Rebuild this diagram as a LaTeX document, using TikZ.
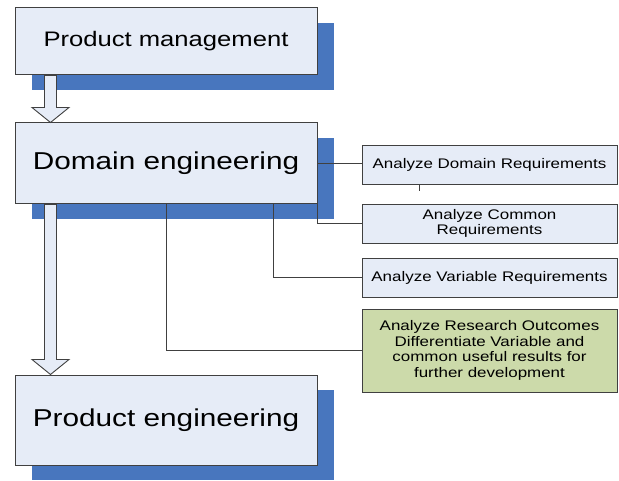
\documentclass[tikz,border=0pt]{standalone}
\usepackage{fontspec}
\newfontfamily\diagfont[FakeStretch=1.22]{Liberation Sans}
\usetikzlibrary{calc, shadows}
\definecolor{boxblue}{RGB}{230,236,247}
\definecolor{shadeblue}{RGB}{72,118,190}
\definecolor{boxgreen}{RGB}{204,218,170}
\definecolor{edgegray}{RGB}{64,64,64}

\begin{document}
\begin{tikzpicture}[
  x=1pt, y=1pt,
  font=\diagfont,
  every node/.style={align=center},
  stagebox/.style={draw=edgegray, fill=boxblue, line width=1pt,
                   minimum width=302pt, minimum height=#1, inner sep=0pt,
                   drop shadow={shadow xshift=17pt, shadow yshift=-15pt,
                                fill=shadeblue, opacity=1}},
  taskbox/.style={draw=edgegray, fill=#1, line width=0.9pt,
                  minimum width=255pt, inner sep=0pt,
                  font=\diagfont\fontsize{13.9}{15.8}\selectfont},
  link/.style={draw=edgegray, line width=0.9pt},
  blockarrow/.style={draw=edgegray, fill=boxblue, line width=0.9pt},
]
\useasboundingbox (0,0) rectangle (619,480);

%% Stages on the left
\node[stagebox=67pt, font=\diagfont\fontsize{21}{25}\selectfont]
  (pm) at (166,438.5) {Product management};
\node[stagebox=81pt, font=\diagfont\fontsize{24.4}{29}\selectfont]
  (de) at (166,316.5) {Domain engineering};
\node[stagebox=90pt, font=\diagfont\fontsize{24.4}{29}\selectfont]
  (pe) at (166,60) {Product engineering};

%% Domain engineering tasks
\node[taskbox=boxblue, minimum height=39pt] (adr) at (489.5,315.5)
  {Analyze Domain Requirements};
\node[taskbox=boxblue, minimum height=39pt] (acr) at (489.5,256.5)
  {Analyze Common\\Requirements};
\node[taskbox=boxblue, minimum height=39pt] (avr) at (489.5,202.5)
  {Analyze Variable Requirements};
\node[taskbox=boxgreen, minimum height=83pt] (aro) at (489.5,129.5)
  {Analyze Research Outcomes\\Differentiate Variable and\\common useful results for\\further development};

%% Links from domain engineering
\draw[link] (de.east) -- (de.east -| adr.west);
\draw[link] (de.south east) |- (acr.west);
\draw[link] ($(de.south west)+(259,0)$) |- (avr.west);
\draw[link] (de.south) |- (aro.west);
\draw[link] ($(adr.south west)+(58,0)$) -- ++(0,-7);

%% Block arrows between stages
\draw[blockarrow] ($(pm.south west)+(30,0)$) -- ($(de.north west)+(30,15)$)
  -- ++(-12.5,0) -- ($(de.north west)+(36,0)$) -- ($(de.north west)+(54.5,15)$)
  -- ++(-12.5,0) -- ($(pm.south west)+(42,0)$) -- cycle;
\draw[blockarrow] ($(de.south west)+(30,0)$) -- ($(pe.north west)+(30,15)$)
  -- ++(-12.5,0) -- ($(pe.north west)+(36,0)$) -- ($(pe.north west)+(54.5,15)$)
  -- ++(-12.5,0) -- ($(de.south west)+(42,0)$) -- cycle;

\end{tikzpicture}
\end{document}
